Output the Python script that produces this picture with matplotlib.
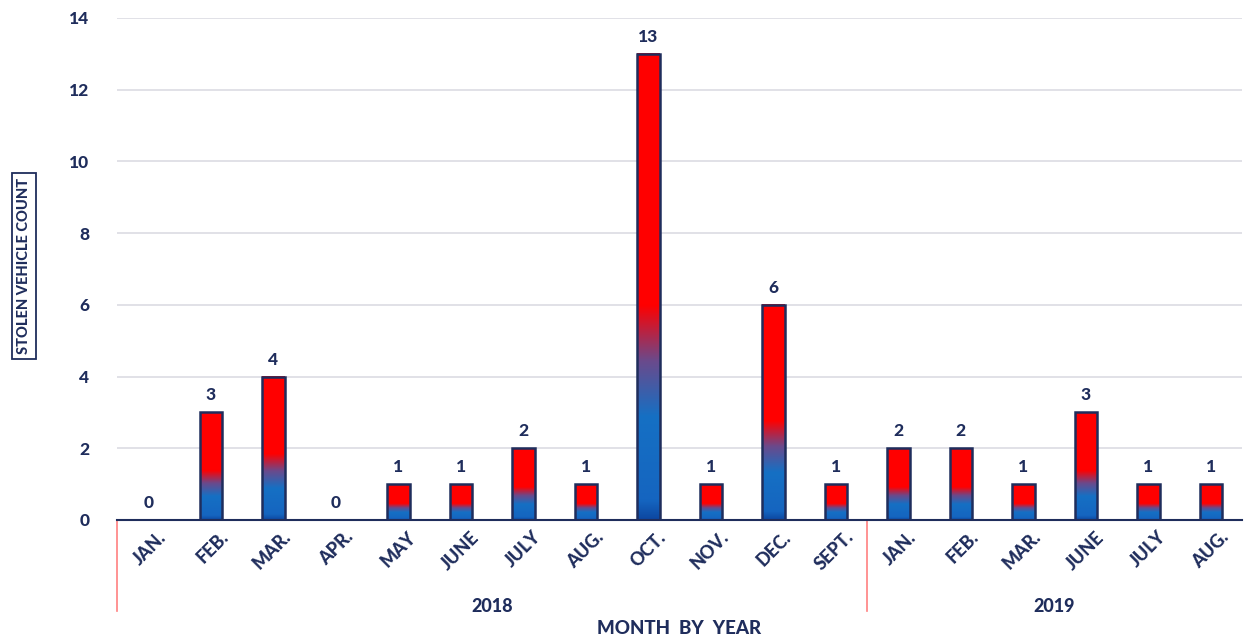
import numpy as np
import matplotlib
matplotlib.use("Agg")
from matplotlib import pyplot as plt
from matplotlib import transforms
from matplotlib.colors import LinearSegmentedColormap
from matplotlib.patches import Rectangle

# data
months = ["JAN.", "FEB.", "MAR.", "APR.", "MAY", "JUNE", "JULY", "AUG.", "OCT.",
          "NOV.", "DEC.", "SEPT.", "JAN.", "FEB.", "MAR.", "JUNE", "JULY", "AUG."]
counts = [0, 3, 4, 0, 1, 1, 2, 1, 13, 1, 6, 1, 2, 2, 1, 3, 1, 1]
years = ["2018", "2019"]
year_sizes = [12, 6]

navy = "#1f2d5c"
plt.rcParams['font.family'] = ['Lato', 'DejaVu Sans']

# blue at the bottom, red at the top (relative to each bar's height)
grad = LinearSegmentedColormap.from_list(
    "br", [(0.0, "#0d47a1"), (0.04, "#1565c0"), (0.22, "#1570c4"),
           (0.34, "#6a4a8c"), (0.46, "#ff0000"), (1.0, "#ff0000")])

fig = plt.figure(figsize=(12.44, 6.42), dpi=100)
ax = fig.add_axes([117/1244, 1-520/642, 1125/1244, (520-18)/642])

x = np.arange(len(months))
w = 0.36
ramp = np.linspace(0, 1, 256).reshape(-1, 1)
for xi, c in zip(x, counts):
    if c > 0:
        ax.imshow(ramp, cmap=grad, origin="lower", aspect="auto",
                  extent=(xi - w/2, xi + w/2, 0, c), zorder=2, interpolation="bilinear")
        ax.add_patch(Rectangle((xi - w/2, 0), w, c, fill=False, ec=navy, lw=1.8, zorder=3))
    ax.text(xi, c + 0.25, str(c), ha="center", va="bottom", color=navy,
            fontsize=12.5, fontweight="black", zorder=4)

ax.set_xlim(-0.5, len(months) - 0.5)
ax.set_ylim(0, 14)
ax.set_yticks(range(0, 15, 2))
ax.yaxis.grid(True, color="#d8d8e0", lw=1.1)
ax.set_axisbelow(True)
for s in ["top", "right", "left"]:
    ax.spines[s].set_visible(False)
ax.spines["bottom"].set_color(navy)
ax.spines["bottom"].set_linewidth(1.5)
ax.tick_params(axis="y", length=0, pad=20, labelsize=12.5, labelcolor=navy)
ax.tick_params(axis="x", length=0, pad=6, labelsize=13, labelcolor=navy)
for lab in ax.get_yticklabels():
    lab.set_fontweight("black")
ax.set_xticks(x)
ax.set_xticklabels(months, rotation=45, ha="right", va="top", rotation_mode="anchor",
                   fontweight="black")
shift = transforms.ScaledTranslation(9/100, 0, fig.dpi_scale_trans)
for lab in ax.get_xticklabels():
    lab.set_transform(lab.get_transform() + shift)

# group labels and separators under the month labels
start = -0.5
for yr, n in zip(years, year_sizes):
    ax.plot([start, start], [0, -2.55], color="#ff8080", lw=1.2, clip_on=False)
    ax.text(start + n/2, -2.4, yr, ha="center", va="center", color=navy,
            fontsize=13, fontweight="black", clip_on=False)
    start += n

fig.text(679/1244, 1-628/642, "MONTH  BY  YEAR", ha="center", va="center",
         color=navy, fontsize=13.5, fontweight="black")
fig.text(24/1244, 1-266/642, "STOLEN VEHICLE COUNT", ha="center", va="center",
         rotation=90, color=navy, fontsize=10.5, fontweight="black",
         bbox=dict(boxstyle="square,pad=0.35", fc="white", ec=navy, lw=1.3))

fig.savefig("out.png", dpi=100)
